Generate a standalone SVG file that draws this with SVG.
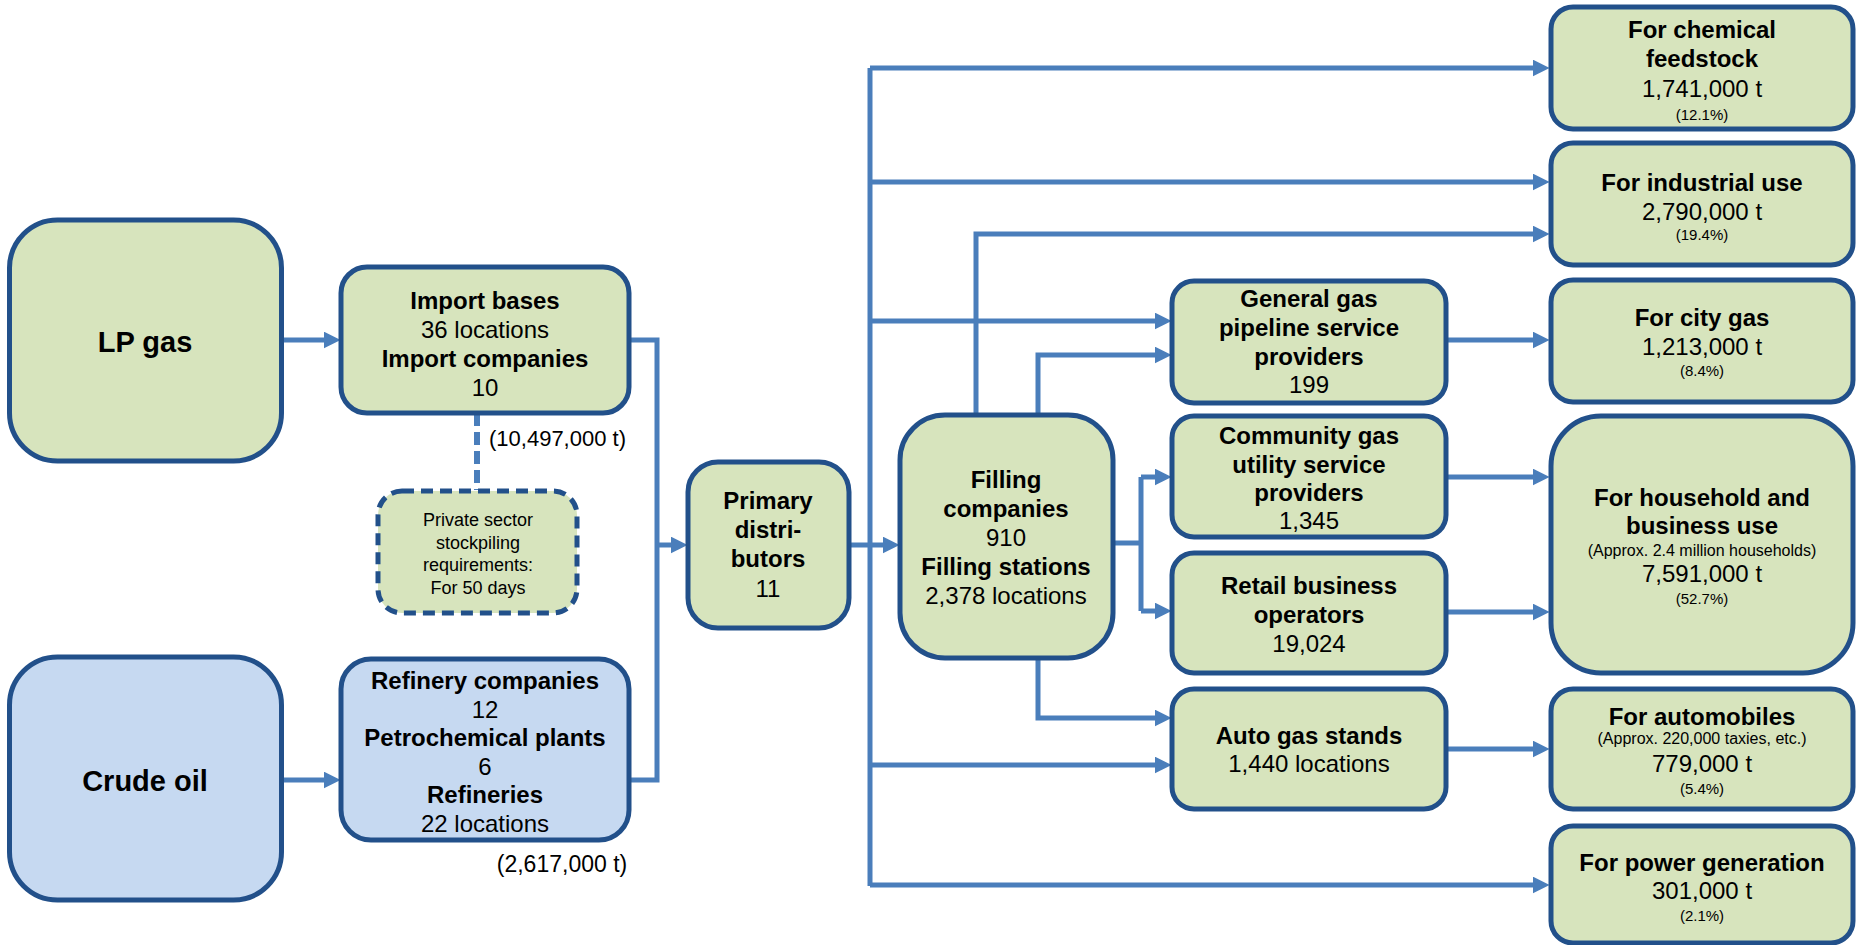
<svg xmlns="http://www.w3.org/2000/svg" width="1864" height="945" viewBox="0 0 1864 945">
<defs>
<style>
.box{fill:#d7e4bd;stroke:#22508a;stroke-width:5}
.blue{fill:#c6d9f1}
.dash{stroke-dasharray:12 7}
.c{fill:none;stroke:#4a7ebb;stroke-width:5}
.ca{fill:none;stroke:#4a7ebb;stroke-width:5;marker-end:url(#ah)}
text{font-family:"Liberation Sans",Arial,sans-serif;text-anchor:middle;fill:#000}
.b{font-weight:bold;font-size:24px}
.r{font-size:24px}
.s{font-size:16px}
.p{font-size:15px}
</style>
<marker id="ah" viewBox="0 0 10 10" refX="2" refY="5" markerWidth="17" markerHeight="17" markerUnits="userSpaceOnUse" orient="auto">
<path d="M0,0 L10,5 L0,10 z" fill="#4a7ebb"/>
</marker>
</defs>
<g id="connectors">
<path class="ca" d="M282,340 H327"/>
<path class="ca" d="M282,780 H327"/>
<path class="c" d="M629,340 H657 V780 H629"/>
<path class="ca" d="M657,545 H674"/>
<path class="ca" d="M849,545 H886"/>
<path class="c" d="M870,68 V886"/>
<path class="ca" d="M870,68 H1536"/>
<path class="ca" d="M870,182 H1536"/>
<path class="ca" d="M870,321 H1158"/>
<path class="ca" d="M870,765 H1158"/>
<path class="ca" d="M870,885 H1536"/>
<path class="ca" d="M976,415 V234 H1536"/>
<path class="ca" d="M1038,415 V355 H1158"/>
<path class="ca" d="M1038,658 V718 H1158"/>
<path class="c" d="M1113,543 H1141"/>
<path class="c" d="M1141,477 V611"/>
<path class="ca" d="M1141,477 H1158"/>
<path class="ca" d="M1141,611 H1158"/>
<path class="ca" d="M1446,340 H1536"/>
<path class="ca" d="M1446,477 H1536"/>
<path class="ca" d="M1446,612 H1536"/>
<path class="ca" d="M1446,749 H1536"/>
<path d="M477,413 V490" fill="none" stroke="#4a7ebb" stroke-width="6" stroke-dasharray="13 6"/>
</g>
<g id="lpgas">
<rect class="box" x="9.5" y="220" width="272" height="241" rx="48"/>
<text class="b" x="145" y="352" style="font-size:29px">LP gas</text>
</g>
<g id="crudeoil">
<rect class="box blue" x="9.5" y="657" width="272" height="243" rx="48"/>
<text class="b" x="145" y="791" style="font-size:29px">Crude oil</text>
</g>
<g id="importbases">
<rect class="box" x="341" y="267" width="288" height="146" rx="26"/>
<text class="b" x="485" y="309">Import bases</text>
<text class="r" x="485" y="338">36 locations</text>
<text class="b" x="485" y="367">Import companies</text>
<text class="r" x="485" y="396">10</text>
</g>
<text x="489" y="446" style="font-size:22px;text-anchor:start">(10,497,000 t)</text>
<g id="stockpiling">
<rect class="box dash" x="378" y="491" width="199" height="122" rx="24"/>
<text x="478" y="526" style="font-size:18px">Private sector</text>
<text x="478" y="548.5" style="font-size:18px">stockpiling</text>
<text x="478" y="571" style="font-size:18px">requirements:</text>
<text x="478" y="593.5" style="font-size:18px">For 50 days</text>
</g>
<g id="refinery">
<rect class="box blue" x="341" y="659" width="288" height="181" rx="30"/>
<text class="b" x="485" y="689">Refinery companies</text>
<text class="r" x="485" y="717.5">12</text>
<text class="b" x="485" y="746">Petrochemical plants</text>
<text class="r" x="485" y="774.5">6</text>
<text class="b" x="485" y="803">Refineries</text>
<text class="r" x="485" y="831.5">22 locations</text>
</g>
<text x="562" y="872" style="font-size:23px">(2,617,000 t)</text>
<g id="primary">
<rect class="box" x="688" y="462" width="161" height="166" rx="30"/>
<text class="b" x="768" y="509">Primary</text>
<text class="b" x="768" y="538">distri-</text>
<text class="b" x="768" y="567">butors</text>
<text class="r" x="768" y="597">11</text>
</g>
<g id="filling">
<rect class="box" x="900" y="415" width="213" height="243" rx="45"/>
<text class="b" x="1006" y="488">Filling</text>
<text class="b" x="1006" y="517">companies</text>
<text class="r" x="1006" y="546">910</text>
<text class="b" x="1006" y="575">Filling stations</text>
<text class="r" x="1006" y="604">2,378 locations</text>
</g>
<g id="generalgas">
<rect class="box" x="1172" y="281" width="274" height="122" rx="22"/>
<text class="b" x="1309" y="306.5">General gas</text>
<text class="b" x="1309" y="336">pipeline service</text>
<text class="b" x="1309" y="364.5">providers</text>
<text class="r" x="1309" y="393">199</text>
</g>
<g id="community">
<rect class="box" x="1172" y="416" width="274" height="121" rx="22"/>
<text class="b" x="1309" y="443.5">Community gas</text>
<text class="b" x="1309" y="472.5">utility service</text>
<text class="b" x="1309" y="500.5">providers</text>
<text class="r" x="1309" y="528.5">1,345</text>
</g>
<g id="retail">
<rect class="box" x="1172" y="553" width="274" height="120" rx="22"/>
<text class="b" x="1309" y="593.5">Retail business</text>
<text class="b" x="1309" y="623">operators</text>
<text class="r" x="1309" y="651.5">19,024</text>
</g>
<g id="autogas">
<rect class="box" x="1172" y="689" width="274" height="120" rx="22"/>
<text class="b" x="1309" y="743.5">Auto gas stands</text>
<text class="r" x="1309" y="771.5">1,440 locations</text>
</g>
<g id="chemical">
<rect class="box" x="1551" y="7" width="302" height="122" rx="22"/>
<text class="b" x="1702" y="38">For chemical</text>
<text class="b" x="1702" y="67">feedstock</text>
<text class="r" x="1702" y="97">1,741,000 t</text>
<text class="p" x="1702" y="119.5">(12.1%)</text>
</g>
<g id="industrial">
<rect class="box" x="1551" y="143" width="302" height="122" rx="22"/>
<text class="b" x="1702" y="190.5">For industrial use</text>
<text class="r" x="1702" y="219.5">2,790,000 t</text>
<text class="p" x="1702" y="239.5">(19.4%)</text>
</g>
<g id="citygas">
<rect class="box" x="1551" y="280" width="302" height="122" rx="22"/>
<text class="b" x="1702" y="325.5">For city gas</text>
<text class="r" x="1702" y="354.5">1,213,000 t</text>
<text class="p" x="1702" y="375.5">(8.4%)</text>
</g>
<g id="household">
<rect class="box" x="1551" y="416" width="302" height="257" rx="50"/>
<text class="b" x="1702" y="505.5">For household and</text>
<text class="b" x="1702" y="533.5">business use</text>
<text class="s" x="1702" y="555.8">(Approx. 2.4 million households)</text>
<text class="r" x="1702" y="581.5">7,591,000 t</text>
<text class="p" x="1702" y="603.5">(52.7%)</text>
</g>
<g id="automobiles">
<rect class="box" x="1551" y="689" width="302" height="120" rx="22"/>
<text class="b" x="1702" y="724.5">For automobiles</text>
<text class="s" x="1702" y="744">(Approx. 220,000 taxies, etc.)</text>
<text class="r" x="1702" y="771.5">779,000 t</text>
<text class="p" x="1702" y="793.5">(5.4%)</text>
</g>
<g id="power">
<rect class="box" x="1551" y="826" width="302" height="117" rx="22"/>
<text class="b" x="1702" y="870.5">For power generation</text>
<text class="r" x="1702" y="898.5">301,000 t</text>
<text class="p" x="1702" y="920.5">(2.1%)</text>
</g>
</svg>
